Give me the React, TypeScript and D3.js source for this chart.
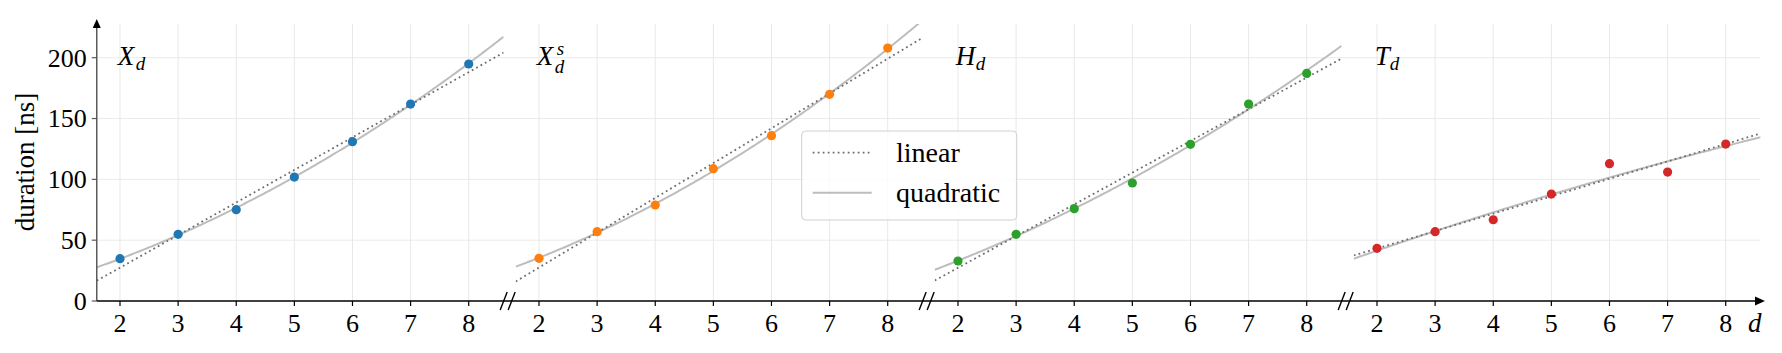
import React from "react";
import * as d3 from "d3";

const DIMS = [2, 3, 4, 5, 6, 7, 8];
const xdValues = [34.8, 54.8, 75.1, 101.9, 131.0, 161.9, 194.8];
const xdsValues = [35.1, 57.0, 78.9, 108.8, 135.9, 169.9, 207.9];
const hdValues = [32.9, 54.8, 75.9, 97.0, 128.8, 161.9, 187.1];
const tdValues = [43.3, 57.0, 66.8, 87.9, 112.9, 106.0, 129.0];
const yTicks = [0, 50, 100, 150, 200];
const panelLabels = [
  { main: "X", sub: "d", sup: "" },
  { main: "X", sub: "d", sup: "s" },
  { main: "H", sub: "d", sup: "" },
  { main: "T", sub: "d", sup: "" },
];
const subOffsets = [18, 18, 20, 15];
const panelColors = ["#1f77b4", "#ff7f0e", "#2ca02c", "#d62728"];
const panelSeries = [xdValues, xdsValues, hdValues, tdValues];
const legendLabels = ["linear", "quadratic"];

const W = 1782;
const H = 353;
const AX_LEFT = 96.75;
const PANEL_STEP = 419;
const UNIT = 58.12;
const X_MIN = 1.6;
const X_MAX = 8.6;
const Y_TOP = 24;
const Y_BOTTOM = 301;
const Y_MAX = 227.7;
const FONT = "'Liberation Serif', 'DejaVu Serif', serif";

function solve(A: number[][], b: number[]): number[] {
  const n = b.length;
  const M = A.map((r, i) => [...r, b[i]]);
  for (let c = 0; c < n; c++) {
    let p = c;
    for (let r = c + 1; r < n; r++) if (Math.abs(M[r][c]) > Math.abs(M[p][c])) p = r;
    [M[c], M[p]] = [M[p], M[c]];
    for (let r = 0; r < n; r++) {
      if (r === c) continue;
      const f = M[r][c] / M[c][c];
      for (let k = c; k <= n; k++) M[r][k] -= f * M[c][k];
    }
  }
  return M.map((r, i) => r[n] / r[i]);
}

function polyFit(xs: number[], ys: number[], deg: number): number[] {
  const n = deg + 1;
  const A = Array.from({ length: n }, (_, i) =>
    Array.from({ length: n }, (_, j) => d3.sum(xs, (x) => Math.pow(x, i + j)))
  );
  const b = Array.from({ length: n }, (_, i) => d3.sum(xs, (x, k) => Math.pow(x, i) * ys[k]));
  return solve(A, b);
}

function polyEval(c: number[], x: number) {
  return c.reduce((s, ci, i) => s + ci * Math.pow(x, i), 0);
}

export default function App() {
  const y = d3.scaleLinear().domain([0, Y_MAX]).range([Y_BOTTOM, Y_TOP]);
  const panelW = (X_MAX - X_MIN) * UNIT;
  const xScales = panelSeries.map((_, i) =>
    d3.scaleLinear().domain([X_MIN, X_MAX]).range([AX_LEFT + i * PANEL_STEP, AX_LEFT + i * PANEL_STEP + panelW])
  );
  const rightEnd = AX_LEFT + 3 * PANEL_STEP + panelW;
  const samples = d3.range(0, 201).map((k) => X_MIN + ((X_MAX - X_MIN) * k) / 200);

  return (
    <svg width={W} height={H} style={{ position: "absolute", left: 0, top: 0, background: "#fff" }} fontFamily={FONT}>
      <defs>
        {xScales.map((xs, i) => (
          <clipPath id={`clip${i}`} key={i}>
            <rect x={xs.range()[0]} y={Y_TOP} width={panelW} height={Y_BOTTOM - Y_TOP} />
          </clipPath>
        ))}
      </defs>
      {yTicks.slice(1).map((t) => (
        <line key={t} x1={AX_LEFT} x2={rightEnd} y1={y(t)} y2={y(t)} stroke="#ebebeb" strokeWidth={1} />
      ))}
      {xScales.map((xs, i) =>
        DIMS.map((d) => (
          <line key={`${i}-${d}`} x1={xs(d)} x2={xs(d)} y1={Y_TOP} y2={Y_BOTTOM} stroke="#e8e8e8" strokeWidth={1} />
        ))
      )}
      {panelSeries.map((vals, i) => {
        const xs = xScales[i];
        const lin = polyFit(DIMS, vals, 1);
        const quad = polyFit(DIMS, vals, 2);
        const line = d3
          .line<number>()
          .x((d) => xs(d))
          .y((d) => y(polyEval(lin, d)));
        const qline = d3
          .line<number>()
          .x((d) => xs(d))
          .y((d) => y(polyEval(quad, d)));
        return (
          <g key={i} clipPath={`url(#clip${i})`}>
            <path d={qline(samples) || ""} fill="none" stroke="#bdbdbd" strokeWidth={2} />
            <path d={line(samples) || ""} fill="none" stroke="#6e6e6e" strokeWidth={1.8} strokeDasharray="1.8,3.2" />
            {vals.map((v, k) => (
              <circle key={k} cx={xs(DIMS[k])} cy={y(v)} r={4.6} fill={panelColors[i]} />
            ))}
          </g>
        );
      })}
      {panelLabels.map((lab, i) => {
        const x0 = xScales[i].range()[0] + 21;
        const so = subOffsets[i];
        return (
          <g key={i} fontStyle="italic">
            <text x={x0} y={65} fontSize={27}>{lab.main}</text>
            <text x={x0 + so} y={lab.sup ? 73 : 70} fontSize={19}>{lab.sub}</text>
            {lab.sup && <text x={x0 + so + 2} y={55} fontSize={19}>{lab.sup}</text>}
          </g>
        );
      })}
      <line x1={AX_LEFT} x2={AX_LEFT} y1={Y_BOTTOM} y2={26} stroke="#5a5a5a" strokeWidth={1.5} />
      <path d={`M${AX_LEFT},19 L${AX_LEFT - 4},28 L${AX_LEFT + 4},28 Z`} fill="#000" />
      {yTicks.map((t) => (
        <g key={t}>
          <line x1={AX_LEFT - 5} x2={AX_LEFT} y1={y(t)} y2={y(t)} stroke="#5a5a5a" strokeWidth={1.2} />
          <text x={AX_LEFT - 10} y={y(t)} dy="0.34em" textAnchor="end" fontSize={26}>
            {t}
          </text>
        </g>
      ))}
      <text transform={`translate(34,162) rotate(-90)`} textAnchor="middle" fontSize={27}>
        duration [ns]
      </text>
      <line x1={AX_LEFT} x2={1756} y1={Y_BOTTOM} y2={Y_BOTTOM} stroke="#000" strokeWidth={1.5} />
      <path d={`M1765,${Y_BOTTOM} L1755,${Y_BOTTOM - 4.5} L1755,${Y_BOTTOM + 4.5} Z`} fill="#000" />
      {xScales.map((xs, i) =>
        DIMS.map((d) => (
          <g key={`${i}-${d}`}>
            <line x1={xs(d)} x2={xs(d)} y1={Y_BOTTOM} y2={Y_BOTTOM + 5} stroke="#000" strokeWidth={1.2} />
            <text x={xs(d)} y={332} textAnchor="middle" fontSize={26}>
              {d}
            </text>
          </g>
        ))
      )}
      {[1, 2, 3].map((i) => {
        const cx = (xScales[i - 1].range()[1] + xScales[i].range()[0]) / 2 - 2;
        return (
          <g key={i} stroke="#000" strokeWidth={1.4}>
            <line x1={cx - 7.5} y1={Y_BOTTOM + 9} x2={cx - 0.5} y2={Y_BOTTOM - 9} />
            <line x1={cx + 0.5} y1={Y_BOTTOM + 9} x2={cx + 7.5} y2={Y_BOTTOM - 9} />
          </g>
        );
      })}
      <text x={1748} y={332} fontSize={27} fontStyle="italic">
        d
      </text>
      <g>
        <rect x={801.7} y={131} width={215} height={89} rx={4} fill="#fff" fillOpacity={0.8} stroke="#d0d0d0" strokeWidth={1} />
        <line x1={812.7} x2={871.7} y1={152.7} y2={152.7} stroke="#6e6e6e" strokeWidth={1.8} strokeDasharray="1.8,3.2" />
        <line x1={812.7} x2={871.7} y1={192.7} y2={192.7} stroke="#bdbdbd" strokeWidth={2} />
        {legendLabels.map((l, k) => (
          <text key={l} x={896} y={152.7 + 40 * k} dy="0.32em" fontSize={28}>
            {l}
          </text>
        ))}
      </g>
    </svg>
  );
}
